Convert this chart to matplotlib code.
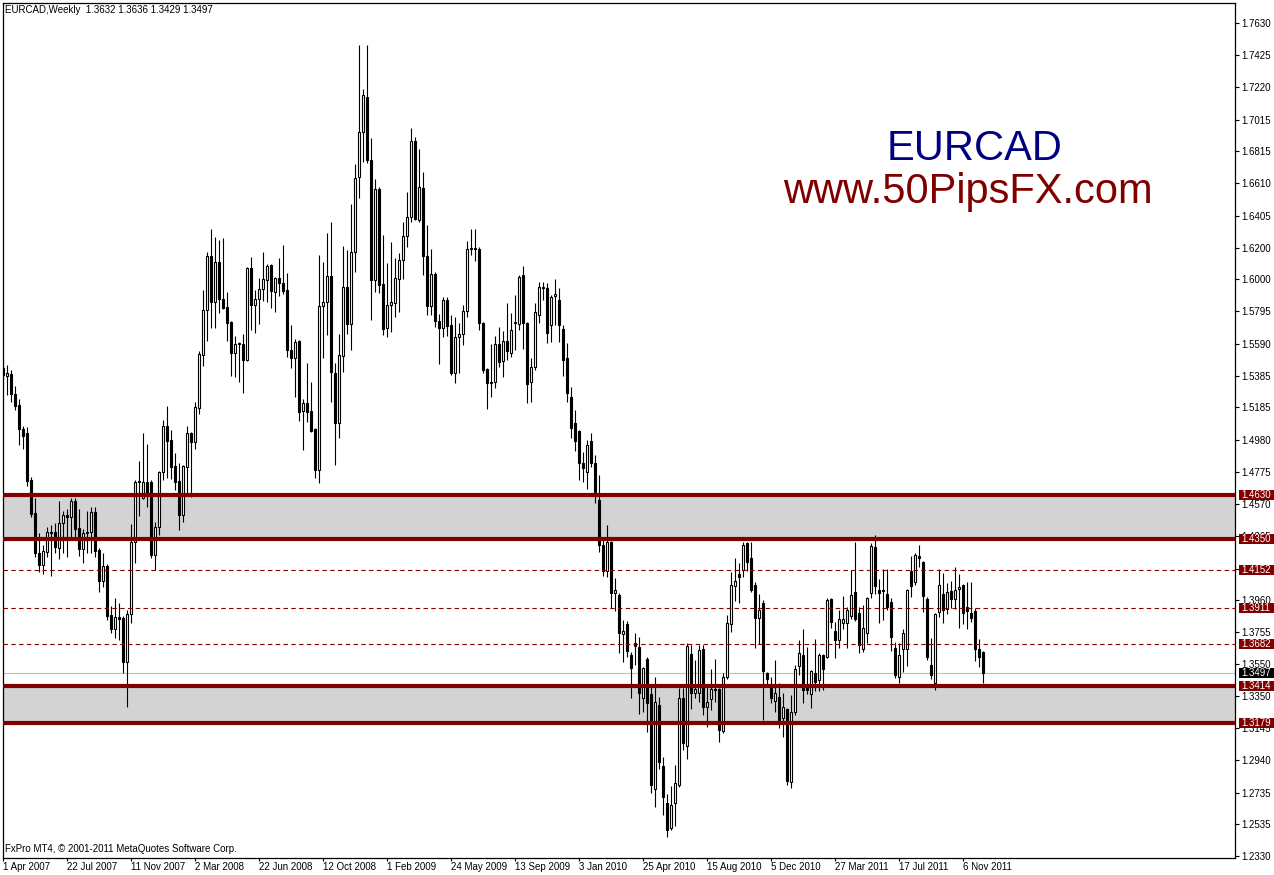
import matplotlib
matplotlib.use("Agg")
import matplotlib.pyplot as plt
from matplotlib.patches import Rectangle
from matplotlib.transforms import blended_transform_factory
import numpy as np
import pandas as pd

# ---------------- data (weekly EURCAD candles) ----------------
opens = [1.5435,1.5385,1.5398,1.5271,1.5200,1.5048,1.5022,1.4723,1.4513,1.4259,
1.4182,1.4265,1.4386,1.4392,1.4291,1.4450,1.4500,1.4488,1.4590,1.4418,
1.4284,1.4386,1.4392,1.4520,1.4278,1.4081,1.4176,1.3865,1.3776,1.3852,
1.3846,1.3566,1.3871,1.4329,1.4710,1.4609,1.4710,1.4710,1.4246,1.4424,
1.4774,1.5067,1.4978,1.4812,1.4717,1.4500,1.4806,1.5022,1.4965,1.5181,
1.5518,1.5804,1.6148,1.5855,1.6110,1.5874,1.5823,1.5728,1.5531,1.5588,
1.5588,1.5486,1.6072,1.5836,1.5874,1.5938,1.5995,1.6091,1.5919,1.6008,
1.5976,1.5932,1.5550,1.5499,1.5608,1.5162,1.5213,1.5162,1.5048,1.4787,
1.5830,1.5855,1.6021,1.5404,1.5086,1.5512,1.5951,1.5716,1.6173,1.6650,
1.6936,1.7159,1.6758,1.5995,1.6574,1.5970,1.5690,1.5836,1.5849,1.6002,
1.6122,1.6275,1.6396,1.6879,1.6377,1.6580,1.6148,1.5830,1.6033,1.5735,
1.5690,1.5868,1.5709,1.5404,1.5633,1.5652,1.5798,1.6192,1.6199,1.6195,
1.5722,1.5429,1.5340,1.5346,1.5588,1.5480,1.5608,1.5531,1.5722,1.5716,
1.6027,1.5722,1.5347,1.5442,1.5773,1.5951,1.5944,1.5709,1.5894,1.5868,
1.5684,1.5499,1.5251,1.5086,1.5035,1.4831,1.4774,1.4971,1.4831,1.4596,
1.4310,1.4145,1.4329,1.4005,1.3992,1.3744,1.3808,1.3610,1.3687,1.3661,
1.3337,1.3585,1.3362,1.2758,1.3292,1.2904,1.2669,1.2510,1.2669,1.2784,
1.3337,1.3032,1.3617,1.3369,1.3369,1.3649,1.3279,1.3330,1.3394,1.3394,
1.3127,1.3470,1.3808,1.4049,1.4126,1.4151,1.4323,1.4227,1.4056,1.3846,
1.3941,1.3496,1.3400,1.3318,1.3343,1.3210,1.3267,1.2803,1.3248,1.3540,
1.3610,1.3400,1.3362,1.3496,1.3451,1.3610,1.3598,1.3966,1.3763,1.3706,
1.3814,1.3814,1.3858,1.4011,1.3878,1.3649,1.3750,1.4005,1.4297,1.4024,
1.4024,1.3998,1.3947,1.3655,1.3470,1.3649,1.3649,1.4145,1.4075,1.4240,
1.4201,1.3966,1.3547,1.3432,1.3884,1.3998,1.3903,1.4018,1.3966,1.4030,
1.4056,1.3915,1.3878,1.3890,1.3649,1.3632]
highs = [1.5499,1.5454,1.5423,1.5321,1.5239,1.5067,1.5060,1.4742,1.4609,1.4386,
1.4310,1.4424,1.4437,1.4450,1.4590,1.4526,1.4539,1.4609,1.4609,1.4539,
1.4412,1.4526,1.4551,1.4551,1.4291,1.4259,1.4190,1.3922,1.3973,1.3941,
1.3860,1.3896,1.4443,1.4720,1.4844,1.5022,1.4952,1.4720,1.4456,1.4780,
1.5105,1.5194,1.5041,1.4895,1.4831,1.4819,1.5067,1.5030,1.5219,1.5544,
1.5932,1.6173,1.6319,1.6269,1.6250,1.6262,1.5919,1.5735,1.5639,1.5600,
1.5652,1.6078,1.6142,1.5932,1.6008,1.6173,1.6097,1.6097,1.6014,1.6135,
1.6218,1.6040,1.5709,1.5620,1.5614,1.5239,1.5467,1.5347,1.5055,1.6154,
1.6110,1.6294,1.6364,1.5467,1.5652,1.6212,1.6186,1.6479,1.6733,1.7490,
1.7210,1.7490,1.6899,1.6638,1.6587,1.6281,1.6103,1.6237,1.6135,1.6167,
1.6364,1.6555,1.6962,1.6905,1.6828,1.6682,1.6345,1.6192,1.6046,1.5779,
1.5887,1.5887,1.5773,1.5760,1.5722,1.5836,1.6243,1.6319,1.6319,1.6205,
1.5728,1.5435,1.5588,1.5639,1.5696,1.5671,1.5849,1.5785,1.5900,1.6027,
1.6084,1.5728,1.5499,1.5849,1.5983,1.5983,1.5976,1.5900,1.6002,1.5944,
1.5709,1.5595,1.5315,1.5168,1.5041,1.4901,1.4978,1.5022,1.4882,1.4755,
1.4354,1.4437,1.4335,1.4100,1.4005,1.3833,1.3827,1.3630,1.3750,1.3725,
1.3534,1.3598,1.3419,1.3470,1.3343,1.2961,1.2726,1.2777,1.2911,1.3400,
1.3400,1.3687,1.3674,1.3578,1.3674,1.3674,1.3426,1.3521,1.3585,1.3400,
1.3496,1.3865,1.4138,1.4227,1.4195,1.4330,1.4330,1.4330,1.4075,1.3998,
1.3960,1.3502,1.3470,1.3578,1.3432,1.3369,1.3275,1.3356,1.3547,1.3706,
1.3776,1.3661,1.3515,1.3712,1.3623,1.3617,1.3973,1.3975,1.3820,1.3896,
1.3986,1.3915,1.4151,1.4329,1.3915,1.3928,1.3979,1.4323,1.4374,1.4094,
1.4157,1.4157,1.3973,1.3693,1.3687,1.3776,1.4030,1.4240,1.4259,1.4310,
1.4210,1.3979,1.3718,1.3880,1.4157,1.4132,1.4068,1.4081,1.4170,1.4126,
1.4062,1.4075,1.4075,1.3909,1.3712,1.3636]
lows = [1.5359,1.5264,1.5219,1.5168,1.4946,1.4921,1.4685,1.4488,1.4233,1.4138,
1.4126,1.4233,1.4113,1.4259,1.4221,1.4259,1.4233,1.4361,1.4354,1.4240,
1.4195,1.4259,1.4259,1.4233,1.4011,1.4043,1.3833,1.3750,1.3718,1.3706,
1.3496,1.3279,1.3814,1.4195,1.4494,1.4600,1.4551,1.4227,1.4151,1.4374,
1.4723,1.4736,1.4730,1.4660,1.4405,1.4456,1.4640,1.4615,1.4921,1.5143,
1.5448,1.5608,1.5690,1.5690,1.5785,1.5811,1.5608,1.5385,1.5379,1.5347,
1.5277,1.5480,1.5677,1.5658,1.5716,1.5862,1.5855,1.5817,1.5792,1.5894,
1.5906,1.5505,1.5435,1.5251,1.5099,1.4914,1.5092,1.5029,1.4736,1.4704,
1.5499,1.5646,1.5219,1.4819,1.4990,1.5410,1.5652,1.5550,1.6046,1.6517,
1.6746,1.6739,1.5741,1.5919,1.5913,1.5646,1.5633,1.5665,1.5760,1.5792,
1.6002,1.6205,1.6364,1.6377,1.6364,1.6027,1.5773,1.5773,1.5696,1.5461,
1.5633,1.5639,1.5391,1.5340,1.5404,1.5582,1.5760,1.6154,1.6116,1.5677,
1.5404,1.5175,1.5251,1.5308,1.5442,1.5379,1.5486,1.5505,1.5550,1.5677,
1.5557,1.5213,1.5219,1.5423,1.5722,1.5868,1.5595,1.5601,1.5709,1.5601,
1.5385,1.5219,1.4990,1.4908,1.4723,1.4710,1.4666,1.4806,1.4577,1.4265,
1.4113,1.4106,1.3909,1.3890,1.3623,1.3566,1.3598,1.3337,1.3547,1.3235,
1.3248,1.3121,1.2733,1.2644,1.2886,1.2593,1.2453,1.2497,1.2523,1.2771,
1.3006,1.2949,1.3267,1.3337,1.3311,1.3229,1.3152,1.3260,1.3311,1.3057,
1.3114,1.3460,1.3757,1.3954,1.3941,1.4106,1.4145,1.4011,1.3655,1.3680,
1.3197,1.3413,1.3305,1.3248,1.3146,1.3089,1.2784,1.2765,1.3229,1.3483,
1.3305,1.3362,1.3273,1.3381,1.3381,1.3388,1.3590,1.3782,1.3591,1.3655,
1.3776,1.3655,1.3839,1.3827,1.3623,1.3630,1.3687,1.3973,1.3998,1.3814,
1.3833,1.3896,1.3636,1.3464,1.3432,1.3502,1.3540,1.3979,1.4056,1.4170,
1.3884,1.3578,1.3458,1.3388,1.3852,1.3814,1.3871,1.3909,1.3903,1.3782,
1.3808,1.3776,1.3820,1.3572,1.3534,1.3429]
closes = [1.5391,1.5404,1.5271,1.5194,1.5048,1.5003,1.4717,1.4507,1.4259,1.4182,
1.4272,1.4392,1.4392,1.4297,1.4450,1.4500,1.4488,1.4590,1.4412,1.4284,
1.4386,1.4392,1.4520,1.4272,1.4081,1.4176,1.3858,1.3776,1.3852,1.3839,
1.3566,1.3871,1.4329,1.4710,1.4717,1.4710,1.4640,1.4246,1.4424,1.4774,
1.5067,1.4971,1.4806,1.4710,1.4500,1.4812,1.5022,1.4965,1.5187,1.5525,
1.5804,1.6148,1.5855,1.6110,1.5874,1.5817,1.5722,1.5531,1.5588,1.5595,
1.5486,1.6072,1.5836,1.5874,1.5938,1.6002,1.6084,1.5925,1.6008,1.5976,
1.5925,1.5550,1.5499,1.5601,1.5156,1.5213,1.5156,1.5035,1.4787,1.5830,
1.5855,1.6021,1.5410,1.5086,1.5518,1.5951,1.5716,1.6173,1.6644,1.6936,
1.7172,1.6758,1.5995,1.6574,1.5963,1.5684,1.5836,1.5855,1.6008,1.6122,
1.6275,1.6396,1.6879,1.6383,1.6587,1.6148,1.5830,1.6033,1.5735,1.5690,
1.5868,1.5703,1.5404,1.5633,1.5652,1.5798,1.6192,1.6199,1.6195,1.5722,
1.5423,1.5340,1.5346,1.5588,1.5474,1.5608,1.5544,1.5677,1.5728,1.6014,
1.5722,1.5334,1.5442,1.5792,1.5951,1.5944,1.5658,1.5887,1.5906,1.5709,
1.5486,1.5277,1.5054,1.4971,1.4831,1.4800,1.4946,1.4831,1.4647,1.4310,
1.4145,1.4329,1.4005,1.4024,1.3750,1.3763,1.3636,1.3528,1.3668,1.3369,
1.3528,1.3305,1.2784,1.3311,1.2930,1.2707,1.2497,1.2656,1.2796,1.3337,
1.3051,1.3668,1.3369,1.3394,1.3642,1.3279,1.3311,1.3394,1.3388,1.3133,
1.3470,1.3814,1.4056,1.4081,1.4106,1.4310,1.4201,1.4024,1.3846,1.3896,
1.3509,1.3458,1.3337,1.3369,1.3184,1.3279,1.2809,1.3248,1.3521,1.3623,
1.3388,1.3388,1.3509,1.3438,1.3610,1.3521,1.3960,1.3820,1.3706,1.3839,
1.3839,1.3896,1.3992,1.3839,1.3674,1.3782,1.3973,1.4304,1.4049,1.4005,
1.4018,1.3915,1.3725,1.3483,1.3610,1.3750,1.4024,1.4049,1.4246,1.4227,
1.3986,1.3598,1.3483,1.3871,1.4056,1.3896,1.4011,1.3966,1.4024,1.4043,
1.3878,1.3890,1.3846,1.3649,1.3598,1.3497]

start_date = "2007-04-01"
price_ticks = [1.2330, 1.2535, 1.2735, 1.2940, 1.3145, 1.3350, 1.3550, 1.3755,
               1.3960, 1.4160, 1.4365, 1.4570, 1.4775, 1.4980, 1.5185, 1.5385,
               1.5590, 1.5795, 1.6000, 1.6200, 1.6405, 1.6610, 1.6815, 1.7015,
               1.7220, 1.7425, 1.7630]
zone_levels = [(1.4350, 1.4630), (1.3179, 1.3414)]
solid_levels = [1.4630, 1.4350, 1.3414, 1.3179]
dashed_levels = [1.4152, 1.3911, 1.3682]
bid_price = 1.3497
title_text = "EURCAD,Weekly  1.3632 1.3636 1.3429 1.3497"
copyright_text = "FxPro MT4, \u00a9 2001-2011 MetaQuotes Software Corp."

# ---------------- figure ----------------
W, H = 1274, 875
fig = plt.figure(figsize=(W / 100, H / 100), dpi=100)
fig.patch.set_facecolor("white")
ax = fig.add_axes([3 / W, 17 / H, 1232 / W, 855 / H])
ax.set_facecolor("white")

n = len(closes)
x = np.arange(n)
o = np.array(opens); h = np.array(highs); l = np.array(lows); c = np.array(closes)

ax.set_xlim(-0.075, 307.9)
ax.set_ylim(1.2319, 1.7757)

SMALL = dict(family="Liberation Sans", fontsize=7)

# zones
for lo, hi in zone_levels:
    ax.axhspan(lo, hi, color="#D3D3D3", lw=0, zorder=0.5)

ax.axhline(bid_price, color="#C0C0C0", lw=0.8, zorder=1)

# candles
ax.vlines(x, l, h, color="black", lw=0.8, zorder=3)
up = c >= o
blo = np.minimum(o, c)
bh = np.maximum(np.abs(c - o), 0.0003)
ax.bar(x[up], bh[up], bottom=blo[up], width=0.55, color="white",
       edgecolor="black", lw=0.8, zorder=4)
ax.bar(x[~up], bh[~up], bottom=blo[~up], width=0.55, color="black",
       edgecolor="black", lw=0.8, zorder=4)

# level lines
for lv in solid_levels:
    ax.axhline(lv, color="#800000", lw=3.0, zorder=5)
for lv in dashed_levels:
    ax.axhline(lv, color="#800000", lw=0.8, ls=(0, (4, 3)), zorder=5)

# axes styling
for s in ax.spines.values():
    s.set_color("black"); s.set_linewidth(0.9)
ax.yaxis.tick_right()
ax.set_yticks(price_ticks)
ax.set_yticklabels([f"{v:.4f}" for v in price_ticks], **SMALL)
ax.tick_params(axis="y", direction="out", length=3, width=0.8, pad=1.5)

dates = pd.date_range(start_date, periods=n, freq="7D")
tick_idx = list(range(0, n, 16))
ax.set_xticks(tick_idx)
ax.set_xticklabels([f"{dates[i].day} {dates[i].strftime('%b %Y')}" for i in tick_idx],
                   ha="left", **SMALL)
ax.tick_params(axis="x", direction="out", length=2, width=0.8, pad=1)

# price label boxes at the right
bt = blended_transform_factory(fig.transFigure, ax.transData)
box_h = 0.0062
for lv in solid_levels + dashed_levels:
    fig.add_artist(Rectangle((1239 / W, lv - box_h / 2), 35 / W, box_h,
                             transform=bt, facecolor="#800000", edgecolor="none",
                             zorder=2))
    fig.text(1241 / W, lv, f"{lv:.4f}", transform=bt, color="white",
             va="center", ha="left", zorder=3, **SMALL)
fig.add_artist(Rectangle((1239 / W, bid_price - box_h / 2), 35 / W, box_h,
                         transform=bt, facecolor="black", edgecolor="none", zorder=2))
fig.text(1241 / W, bid_price, f"{bid_price:.4f}", transform=bt, color="white",
         va="center", ha="left", zorder=3, **SMALL)

# texts
fig.text(5 / W, 1 - 10 / H, title_text, ha="left", va="center", **SMALL)
fig.text(5 / W, 1 - 849 / H, copyright_text, ha="left", va="center", **SMALL)
fig.text(975 / W, 1 - 160 / H, "EURCAD", ha="center", va="baseline",
         family="Liberation Sans", fontsize=30, color="#000080")
fig.text(967.5 / W, 1 - 203 / H, "www.50PipsFX.com", ha="center", va="baseline",
         family="Liberation Sans", fontsize=30, color="#800000")

fig.savefig("out.png", dpi=100, facecolor="white")
